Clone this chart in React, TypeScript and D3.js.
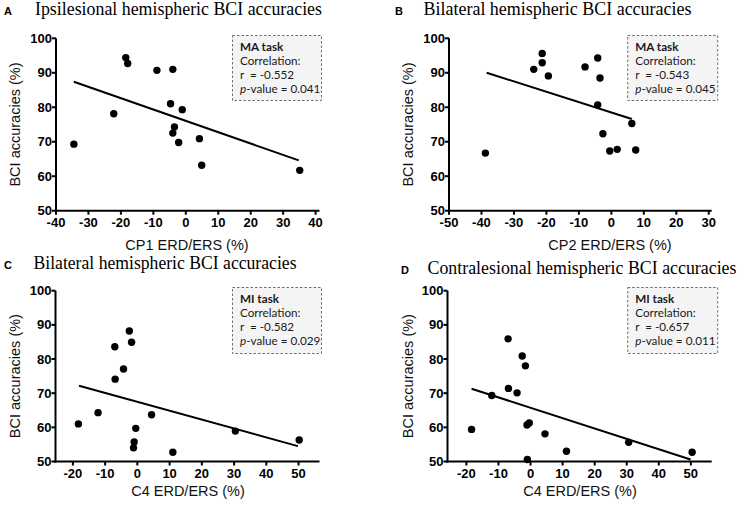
import React from 'react';
import * as d3 from 'd3';

// ---- data ----
const yTicks = [50, 60, 70, 80, 90, 100];
const xTicksA = [-40, -30, -20, -10, 0, 10, 20, 30, 40];
const xTicksB = [-50, -40, -30, -20, -10, 0, 10, 20, 30];
const xTicksCD = [-20, -10, 0, 10, 20, 30, 40, 50];

const cp1 = [-34.5, -22.2, -18.5, -17.9, -8.9, -4.0, -4.7, -1.1, -3.5, -4.0, -2.2, 4.2, 4.9, 35.1];
const accA = [69.3, 78.1, 94.4, 92.7, 90.7, 91.0, 81.0, 79.3, 74.3, 72.5, 69.8, 70.9, 63.2, 61.7];
const cp2 = [-38.8, -23.9, -21.3, -21.3, -19.4, -8.1, -4.2, -3.5, -4.2, -2.6, -0.5, 1.8, 6.3, 7.5];
const accB = [66.7, 91.0, 95.6, 92.9, 89.1, 91.7, 94.3, 88.5, 80.7, 72.3, 67.3, 67.8, 75.3, 67.6];
const c4C = [-18.3, -12.2, -7.0, -6.9, -4.3, -2.5, -1.8, -0.5, -1.0, -1.2, 4.4, 11.0, 30.4, 50.2];
const accC = [61.0, 64.3, 83.6, 74.1, 77.1, 88.2, 84.9, 59.7, 55.7, 54.0, 63.7, 52.7, 58.9, 56.3];
const c4D = [-18.4, -12.1, -7.0, -6.9, -4.2, -2.6, -1.6, -1.1, -0.4, -1.0, 4.5, 11.2, 30.6, 50.4];
const accD = [59.4, 69.3, 85.9, 71.4, 70.1, 80.9, 78.0, 60.7, 61.3, 50.6, 58.1, 53.0, 55.6, 52.7];

const fitAx = [-34.5, 34.8];
const fitAy = [87.4, 64.6];
const fitBx = [-38.4, 6.3];
const fitBy = [90.0, 76.6];
const fitCx = [-18.1, 49.8];
const fitCy = [72.2, 54.5];
const fitDx = [-18.4, 49.9];
const fitDy = [71.3, 50.6];

const titles = [
  'Ipsilesional hemispheric BCI accuracies',
  'Bilateral hemispheric BCI accuracies',
  'Bilateral hemispheric BCI accuracies',
  'Contralesional hemispheric BCI accuracies',
];
const letters = ['A', 'B', 'C', 'D'];
const xTitles = ['CP1 ERD/ERS (%)', 'CP2 ERD/ERS (%)', 'C4 ERD/ERS (%)', 'C4 ERD/ERS (%)'];
const yTitle = 'BCI accuracies (%)';
const tasks = ['MA task', 'MA task', 'MI task', 'MI task'];
const rValues = ['-0.552', '-0.543', '-0.582', '-0.657'];
const pValues = ['0.041', '0.045', '0.029', '0.011'];

const SANS = '"Liberation Sans", Arial, sans-serif';
const SERIF = '"Liberation Serif", "Times New Roman", serif';
const LEG = 'Lato, "Open Sans", sans-serif';

interface PanelProps {
  idx: number;
  xs: number[];
  ys: number[];
  fx: number[];
  fy: number[];
  xTicks: number[];
  xDomain: [number, number];
  xRange: [number, number];
  yRange: [number, number];
  letterX: number;
  titleX: number;
  titleY: number;
  titleW: number;
  xTitleX: number;
  xTitleY: number;
  yTitleX: number;
  legend: { x: number; y: number; w: number; h: number };
}

function Panel(p: PanelProps) {
  const x = d3.scaleLinear().domain(p.xDomain).range(p.xRange);
  const y = d3.scaleLinear().domain([50, 100]).range(p.yRange);
  const ax = p.xRange[0];
  const ay = p.yRange[0];
  const line = d3.line<number>().x((d, i) => x(p.fx[i])).y((d, i) => y(p.fy[i]));
  const yMid = (p.yRange[0] + p.yRange[1]) / 2;
  const lg = p.legend;
  return (
    <g>
      <text x={p.letterX} y={p.titleY} fontFamily={SANS} fontWeight="bold" fontSize={11}>
        {letters[p.idx]}
      </text>
      <text
        x={p.titleX}
        y={p.titleY}
        fontFamily={SERIF}
        fontSize={18}
        textLength={p.titleW}
        lengthAdjust="spacingAndGlyphs"
      >
        {titles[p.idx]}
      </text>
      {/* legend box */}
      <rect x={lg.x} y={lg.y} width={lg.w} height={lg.h} fill="#f4f4f4" stroke="#6e6e6e" strokeWidth={1} strokeDasharray="2.5,2" />
      <g fontFamily={LEG} fontSize={11.7} fill="#1a1a1a">
        <text x={lg.x + 7.5} y={lg.y + 15.5} fontWeight="bold">{tasks[p.idx]}</text>
        <text x={lg.x + 7.5} y={lg.y + 29.5}>Correlation:</text>
        <text x={lg.x + 7.5} y={lg.y + 43.5} style={{ whiteSpace: 'pre' }}>{'r  = ' + rValues[p.idx]}</text>
        <text x={lg.x + 7.5} y={lg.y + 57.5}>
          <tspan fontStyle="italic">p</tspan>
          {'-value = ' + pValues[p.idx]}
        </text>
      </g>
      {/* axes */}
      <line x1={ax} x2={ax} y1={y(100)} y2={ay + 1} stroke="#000" strokeWidth={2} />
      <line x1={ax - 1} x2={p.xRange[1]} y1={ay} y2={ay} stroke="#000" strokeWidth={2} />
      {yTicks.map((t) => (
        <g key={'y' + t}>
          <line x1={ax - 4} x2={ax} y1={y(t)} y2={y(t)} stroke="#000" strokeWidth={2} />
          <text x={ax - 4} y={y(t) + 4.6} textAnchor="end" fontFamily={SANS} fontWeight="bold" fontSize={13}>
            {t}
          </text>
        </g>
      ))}
      {p.xTicks.map((t) => (
        <g key={'x' + t}>
          <line x1={x(t)} x2={x(t)} y1={ay} y2={ay + 4} stroke="#000" strokeWidth={2} />
          <text x={x(t)} y={ay + 16} textAnchor="middle" fontFamily={SANS} fontWeight="bold" fontSize={13}>
            {t}
          </text>
        </g>
      ))}
      <text x={p.xTitleX} y={p.xTitleY} textAnchor="middle" fontFamily={SANS} fontSize={14.5} fill="#111">
        {xTitles[p.idx]}
      </text>
      <text
        transform={`translate(${p.yTitleX},${yMid}) rotate(-90)`}
        textAnchor="middle"
        fontFamily={SANS}
        fontSize={14.5}
        fill="#111"
      >
        {yTitle}
      </text>
      {/* fit */}
      <path d={line(p.fx) || ''} fill="none" stroke="#000" strokeWidth={2} />
      {p.xs.map((v, i) => (
        <circle key={i} cx={x(v)} cy={y(p.ys[i])} r={3.7} fill="#000" />
      ))}
    </g>
  );
}

export default function App() {
  return (
    <svg
      width={739}
      height={505}
      viewBox="0 0 739 505"
      style={{ position: 'absolute', left: 0, top: 0, background: '#fff' }}
    >
      <rect width={739} height={505} fill="#fff" />
      <Panel
        idx={0}
        xs={cp1}
        ys={accA}
        fx={fitAx}
        fy={fitAy}
        xTicks={xTicksA}
        xDomain={[-40, 41.2]}
        xRange={[56, 319.5]}
        yRange={[210.7, 38.3]}
        letterX={4}
        titleX={35}
        titleY={15}
        titleW={287}
        xTitleX={187}
        xTitleY={249.5}
        yTitleX={20}
        legend={{ x: 232.5, y: 35.5, w: 89, h: 65 }}
      />
      <Panel
        idx={1}
        xs={cp2}
        ys={accB}
        fx={fitBx}
        fy={fitBy}
        xTicks={xTicksB}
        xDomain={[-50, 30.9]}
        xRange={[449, 711.7]}
        yRange={[210.7, 38.3]}
        letterX={395}
        titleX={423.5}
        titleY={15}
        titleW={268}
        xTitleX={610}
        xTitleY={249.5}
        yTitleX={413}
        legend={{ x: 627.7, y: 35.5, w: 90, h: 65 }}
      />
      <Panel
        idx={2}
        xs={c4C}
        ys={accC}
        fx={fitCx}
        fy={fitCy}
        xTicks={xTicksCD}
        xDomain={[-25.4, 56.5]}
        xRange={[55.5, 319.5]}
        yRange={[461.5, 290.7]}
        letterX={4}
        titleX={33.5}
        titleY={269}
        titleW={263}
        xTitleX={188}
        xTitleY={496}
        yTitleX={20}
        legend={{ x: 232.5, y: 287.5, w: 89, h: 66 }}
      />
      <Panel
        idx={3}
        xs={c4D}
        ys={accD}
        fx={fitDx}
        fy={fitDy}
        xTicks={xTicksCD}
        xDomain={[-25.9, 56.5]}
        xRange={[447.5, 711.7]}
        yRange={[461.5, 290.7]}
        letterX={401}
        titleX={427.5}
        titleY={273.5}
        titleW={309}
        xTitleX={580}
        xTitleY={496}
        yTitleX={413}
        legend={{ x: 627.7, y: 287.5, w: 90, h: 66 }}
      />
    </svg>
  );
}
